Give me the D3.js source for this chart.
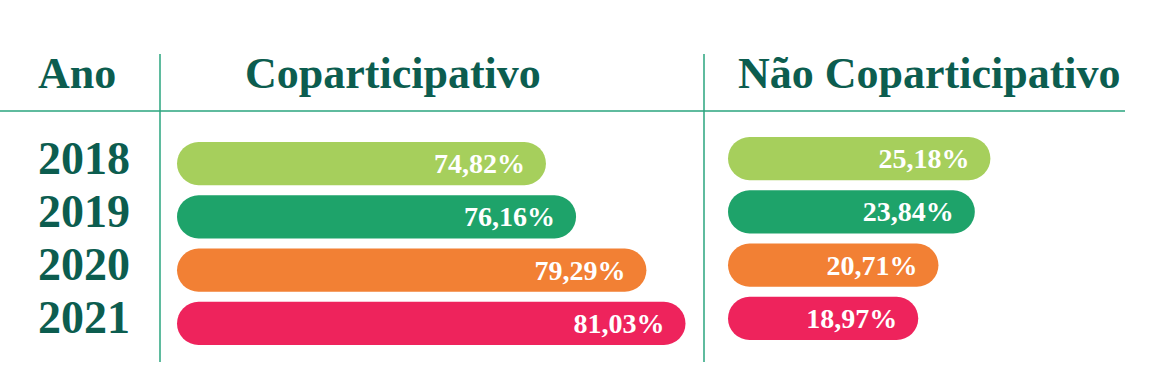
<!DOCTYPE html>
<html>
<head>
<meta charset="utf-8">
<script src="https://cdn.jsdelivr.net/npm/d3@7"></script>
<style>
  body { margin: 0; background: #fff; }
  svg { display: block; }
</style>
</head>
<body>
<script>
// data
var years = ['2018', '2019', '2020', '2021'];
var copart = [74.82, 76.16, 79.29, 81.03];
var naoCopart = [25.18, 23.84, 20.71, 18.97];
var barColors = ['#a6cf5c', '#1ea36a', '#f28034', '#ee235c'];
var headers = ['Ano', 'Coparticipativo', 'Não Coparticipativo'];

var width = 1157, height = 373;
var ink = '#0c5d4f', rule = '#2aa47e';
var titleFont = '"Liberation Serif", "Times New Roman", serif';

var svg = d3.select('body').append('svg').attr('width', width).attr('height', height);

// header
var hx = [38, 245, 738];
svg.selectAll('text.head').data(headers).enter().append('text')
  .attr('class', 'head')
  .attr('x', function(d, i) { return hx[i]; })
  .attr('y', 88)
  .attr('font-family', titleFont).attr('font-weight', 'bold').attr('font-size', 44)
  .attr('fill', ink)
  .text(function(d) { return d; });

// rules
svg.append('line').attr('x1', 0).attr('x2', 1125).attr('y1', 111).attr('y2', 111)
  .attr('stroke', rule).attr('stroke-width', 1.5);
[160, 704].forEach(function(x) {
  svg.append('line').attr('x1', x).attr('x2', x).attr('y1', 54).attr('y2', 362)
    .attr('stroke', rule).attr('stroke-width', 1.5);
});

// scales (bars in the picture do not start at zero)
var y = d3.scaleBand().domain(years).range([142, 345]).paddingInner(0.19);
var xLeft = d3.scaleLinear().domain([58.4, 81.03]).range([177, 685.5]);
var xRight = d3.scaleLinear().domain([2.6, 25.18]).range([728, 990.4]);

// year labels
svg.selectAll('text.year').data(years).enter().append('text')
  .attr('class', 'year')
  .attr('x', 38)
  .attr('y', function(d) { return y(d) + y.bandwidth() / 2 + 10; })
  .attr('font-family', titleFont).attr('font-weight', 'bold').attr('font-size', 46)
  .attr('fill', ink)
  .text(function(d) { return d; });

function panel(values, x, dy) {
  var g = svg.append('g').attr('transform', 'translate(0,' + dy + ')');
  var x0 = x.range()[0];
  var h = y.bandwidth();
  g.selectAll('rect').data(values).enter().append('rect')
    .attr('x', x0)
    .attr('y', function(d, i) { return y(years[i]); })
    .attr('width', function(d) { return x(d) - x0; })
    .attr('height', h)
    .attr('rx', h / 2).attr('ry', h / 2)
    .attr('fill', function(d, i) { return barColors[i]; });
  g.selectAll('text').data(values).enter().append('text')
    .attr('x', function(d) { return x(d) - 21; })
    .attr('y', function(d, i) { return y(years[i]) + h / 2 + 9.5; })
    .attr('text-anchor', 'end')
    .attr('font-family', titleFont).attr('font-weight', 'bold').attr('font-size', 28)
    .attr('fill', '#fff')
    .text(function(d) { return d.toFixed(2).replace('.', ',') + '%'; });
}

panel(copart, xLeft, 0);
panel(naoCopart, xRight, -5);
</script>
</body>
</html>
